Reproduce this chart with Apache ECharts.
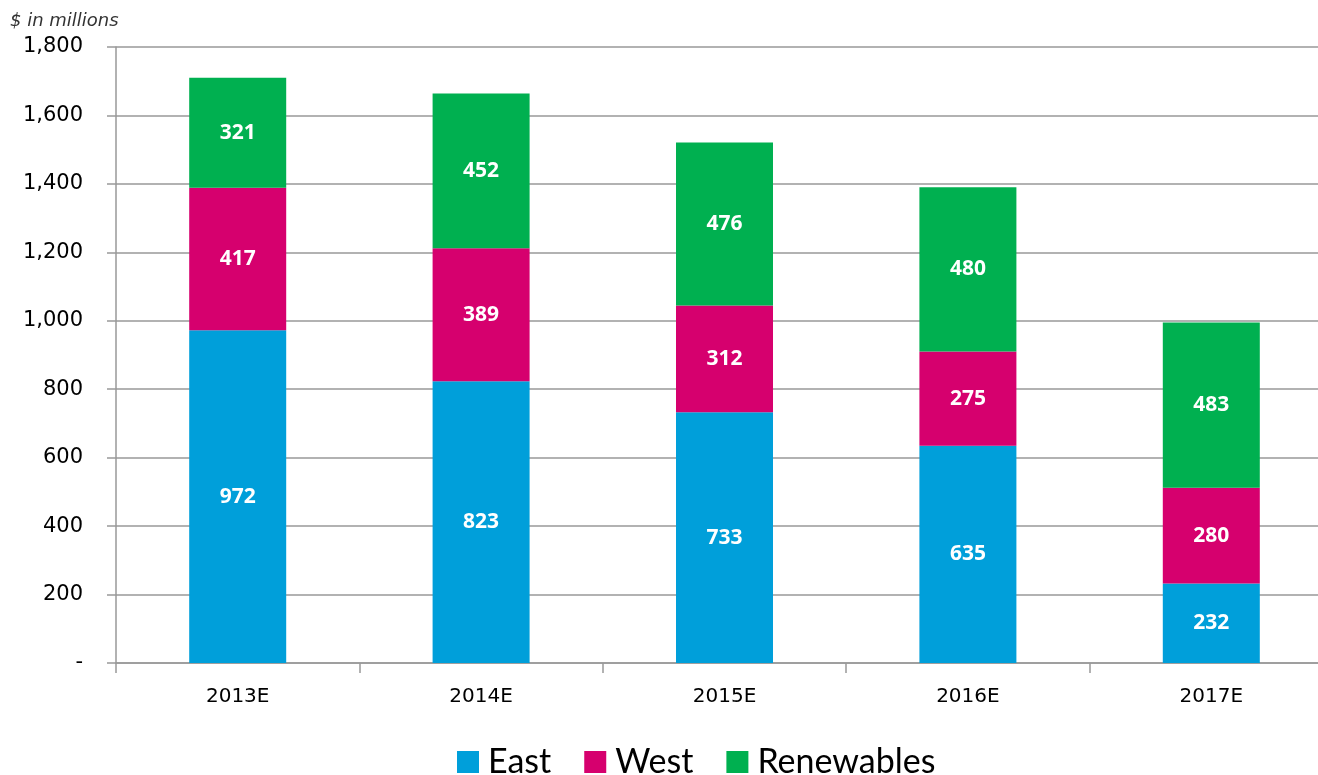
<!DOCTYPE html>
<html>
<head>
<meta charset="utf-8">
<script src="https://cdn.jsdelivr.net/npm/echarts@6/dist/echarts.min.js"></script>
<style>
html, body { margin: 0; padding: 0; background: #fff; overflow: hidden; }
#chart { width: 1333px; height: 775px; }
</style>
</head>
<body>
<div id="chart"></div>
<script>
var years = ["2013E", "2014E", "2015E", "2016E", "2017E"];
var east = [972, 823, 733, 635, 232];
var west = [417, 389, 312, 275, 280];
var renewables = [321, 452, 476, 480, 483];

var chart = echarts.init(document.getElementById("chart"));
var labelStyle = {
    show: true,
    position: "inside",
    color: "#fff",
    fontFamily: "Open Sans",
    fontWeight: "bold",
    fontSize: 21
};
function bar(name, data, color) {
    return {
        name: name,
        type: "bar",
        stack: "total",
        barWidth: 97,
        data: data,
        itemStyle: { color: color },
        label: labelStyle
    };
}
var option = {
    animation: false,
    title: {
        text: "$ in millions",
        left: 5,
        top: 7,
        textStyle: { fontFamily: "DejaVu Sans", fontStyle: "italic", fontWeight: "normal", fontSize: 18, color: "#333" }
    },
    grid: { left: 116, right: 0, top: 47, bottom: 112 },
    legend: {
        top: 740,
        left: 452,
        itemWidth: 22,
        itemHeight: 22,
        itemGap: 33,
        icon: "rect",
        textStyle: { fontFamily: "Lato", fontSize: 34, color: "#000", padding: [0, 0, 0, 4] },
        data: ["East", "West", "Renewables"]
    },
    xAxis: {
        type: "category",
        data: years,
        axisLine: { lineStyle: { color: "#999", width: 1.5 } },
        axisTick: { show: true, length: 10, lineStyle: { color: "#999", width: 1.5 } },
        axisLabel: { fontFamily: "DejaVu Sans", fontSize: 20, color: "#000", margin: 24 }
    },
    yAxis: {
        type: "value",
        min: 0,
        max: 1800,
        interval: 200,
        axisLine: { show: true, lineStyle: { color: "#999", width: 1.5 } },
        axisTick: { show: true, length: 9, lineStyle: { color: "#999", width: 1.5 } },
        splitLine: { lineStyle: { color: "#999", width: 1.5 } },
        axisLabel: {
            fontFamily: "DejaVu Sans",
            fontSize: 21,
            color: "#000",
            margin: 33,
            formatter: function (v) {
                return v === 0 ? "-" : v.toLocaleString("en-US");
            }
        }
    },
    series: [
        bar("East", east, "#009FDA"),
        bar("West", west, "#D6006E"),
        bar("Renewables", renewables, "#00B050")
    ]
};
chart.setOption(option);
</script>
</body>
</html>
